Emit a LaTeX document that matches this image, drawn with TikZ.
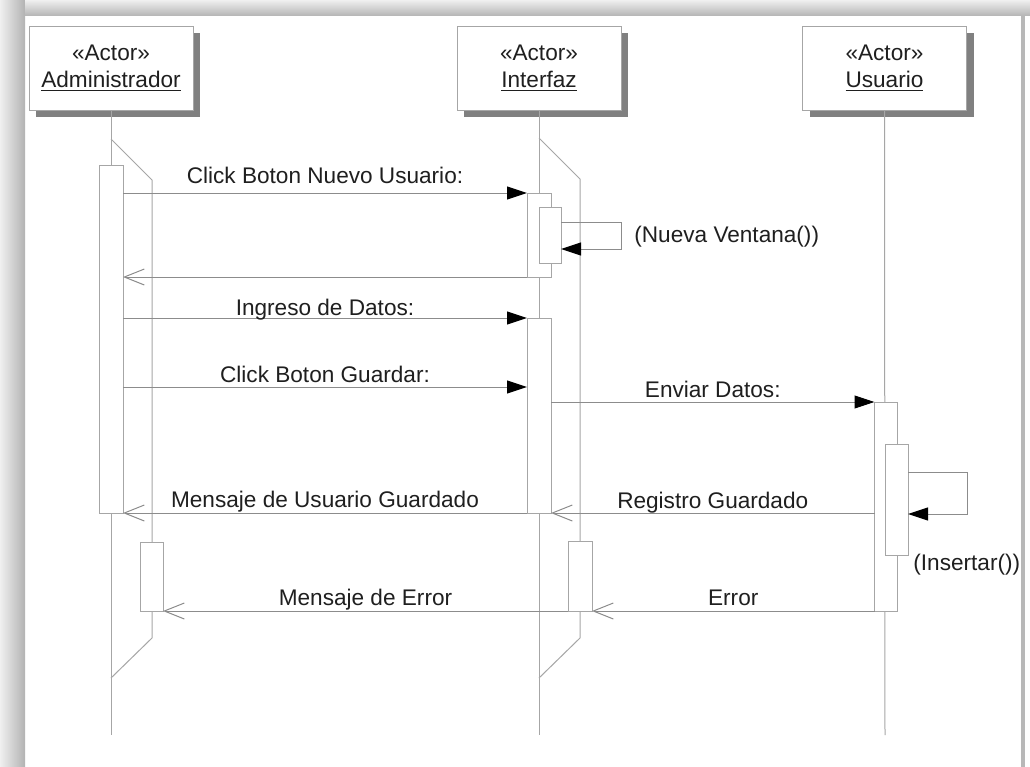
\documentclass[tikz,border=0pt]{standalone}
\usepackage{fontspec}
\setmainfont{Liberation Sans}
\usetikzlibrary{arrows.meta,shadows,calc}

\begin{document}
\begin{tikzpicture}[x=0.5pt,y=-0.5pt,
  font=\fontsize{11.3}{13.5}\selectfont,
  every node/.append style={text=black!88},
  actor/.style={draw=black!35,fill=white,minimum width=82pt,minimum height=42pt,
    inner sep=0pt,align=center,
    drop shadow={shadow xshift=3.5pt,shadow yshift=-3.5pt,fill=black!50,opacity=1}},
  bar/.style 2 args={draw=black!35,fill=white,inner sep=0pt,outer sep=0pt,
    minimum width={#1*0.5pt},minimum height={#2*0.5pt}}]
  \tikzstyle{life} = [draw=black!35,line width=0.5pt]
  \tikzstyle{call} = [draw=black!45,line width=0.5pt,-{Triangle[length=10pt,width=6.5pt,color=black]}]
  \tikzstyle{reply} = [draw=black!45,line width=0.5pt,-{Straight Barb[length=10pt,width=8pt]}]
  \tikzstyle{lbl} = [midway,anchor=base,inner sep=0pt]

  % frame of the screenshot
  \fill[white] (0,0) rectangle (1030,767);
  \shade[left color=black!6,right color=black!30] (0,0) rectangle (25,767);
  \shade[top color=black!6,bottom color=black!28] (25,0) rectangle (1030,15);
  \fill[black!28] (1021,15) rectangle (1025,767);

  % actors
  \node (adm) [actor] at (111,68) {«Actor»\\\underline{Administrador}};
  \node (int) [actor] at (539,68) {«Actor»\\\underline{Interfaz}};
  \node (usr) [actor] at (884.5,68) {«Actor»\\\underline{Usuario}};

  \coordinate (admEnd) at (111,735);
  \coordinate (intEnd) at (539,735);
  \coordinate (usrEnd) at (885,735);
  \draw[life] (adm) -- (admEnd);
  \draw[life] (int) -- (intEnd);
  \draw[life] (usr) -- (usrEnd);

  \draw[life] (111,139) -- (152,180) -- (152,638) -- (111,678);
  \draw[life] (539,138) -- (580,179) -- (580,638) -- (539,678);

  % activations
  \node (adm1) [bar={24}{348}] at (111,339) {};
  \node (adm2) [bar={23}{69}] at (151.5,576.5) {};
  \node (int1) [bar={24}{84}] at (539,235) {};
  \node (int1b) [bar={22}{56}] at (550,235) {};
  \node (int2) [bar={24}{195}] at (539,415.5) {};
  \node (int3) [bar={24}{70}] at (580,576) {};
  \node (usr1) [bar={23}{209}] at (886,506.5) {};
  \node (usr1b) [bar={23}{111}] at (896.5,499.5) {};

  % messages
  \draw[call] (adm1.east |- int1.north west) -- node[lbl,yshift=5pt] {Click Boton Nuevo Usuario:} (int1.north west);
  \draw[call] ([yshift=6.5pt]int1b.east) -- ++(60,0) |- ([yshift=-7pt]int1b.east);
  \node (nv) [anchor=west,inner sep=0pt] at (634,237) {(Nueva Ventana())};
  \draw[reply] (int1.south west) -- (adm1.east |- int1.south west);
  \draw[call] (adm1.east |- int2.north west) -- node[lbl,yshift=1.5pt] {Ingreso de Datos:} (int2.north west);
  \coordinate (m4) at (0,387);
  \draw[call] (adm1.east |- m4) -- node[lbl,yshift=2.5pt] {Click Boton Guardar:} (int2.west |- m4);
  \draw[call] (int2.east |- usr1.north west) -- node[lbl,yshift=2.5pt] {Enviar Datos:} (usr1.north west);
  \draw[call] ([yshift=13.75pt]usr1b.east) -- ++(59,0) |- ([yshift=-7.25pt]usr1b.east);
  \node (ins) [anchor=west,inner sep=0pt] at (913,565) {(Insertar())};
  \draw[reply] (usr1.west |- int2.south east) -- node[lbl,yshift=2.5pt] {Registro Guardado} (int2.south east);
  \draw[reply] (int2.south west) -- node[lbl,yshift=3pt] {Mensaje de Usuario Guardado} (adm1.south east);
  \draw[reply] (usr1.south west) -- node[lbl,yshift=3pt] {Error} (int3.south east);
  \draw[reply] (int3.south west) -- node[lbl,yshift=3pt] {Mensaje de Error} (adm2.south east);
\end{tikzpicture}
\end{document}
